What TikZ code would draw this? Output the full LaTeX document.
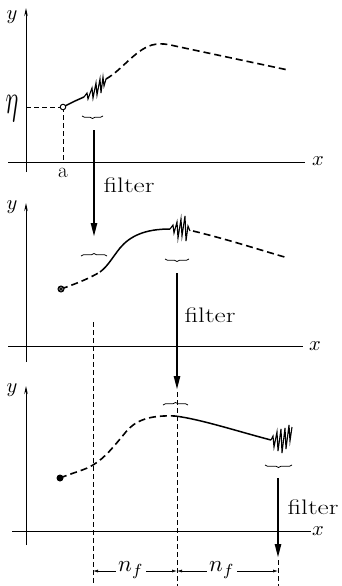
\documentclass[tikz,border=0pt]{standalone}
\usepackage{fontspec}
\usetikzlibrary{arrows.meta,decorations.pathreplacing}
\tikzset{
  axisline/.style={line width=0.9pt},
  yaxisline/.style={line width=0.9pt,-{Stealth[length=8pt,width=3.5pt]}},
  guide/.style={line width=0.5pt,dash pattern=on 5pt off 3pt},
  solidcurve/.style={line width=1.5pt,line join=round},
  dashcurve/.style={line width=1.6pt,dash pattern=on 7pt off 4pt},
  noise/.style={line width=1.1pt,line join=miter},
  filtarrow/.style={line width=2.4pt,-{Triangle[length=14pt,width=6pt]}},
  overbr/.style={line width=0.8pt,decorate,decoration={brace,amplitude=2.5pt}},
  underbr/.style={line width=0.8pt,decorate,decoration={brace,amplitude=2.5pt,mirror}},
  axlbl/.style={inner sep=0pt},
  filtlbl/.style={font=\fontsize{21}{21}\selectfont,inner sep=0pt},
  dimarrow/.style={line width=0.6pt,-{Latex[length=5pt,width=3pt]}},
}
\newcommand{\biglbl}[1]{\scalebox{2.05}{$#1$}}
\begin{document}
\begin{tikzpicture}[x=1pt,y=-1pt]
\useasboundingbox (0,0) rectangle (342,586);

% ---------------- panel 1 ----------------
\draw[axisline] (8,162) -- (305,162);
\node[axlbl] (x1) at (318,161) {\biglbl{x}};
\draw[yaxisline] (26,172) -- (26,8);
\node[axlbl] (y1) at (12,17) {\biglbl{y}};
\node[inner sep=0pt] (eta) at (12,109) {\scalebox{2.4}[4.2]{$\eta$}};
\node[axlbl,font=\fontsize{21}{21}\selectfont] (alab) at (63,173) {a};
\coordinate (s1) at (63,107);
\draw[guide] (26,107) -- (s1);
\draw[guide] (s1) -- (63,162);
\draw[solidcurve] (s1) -- (75,101) -- (84,97);
\draw[noise] (84,97) -- (87,93) -- (88,99) -- (92,88) -- (93,98) -- (96,83) -- (97,95) -- (100,79) -- (101,93) -- (103,77) -- (104,86) -- (106,79);
\draw[dashcurve] (106,79) .. controls (122,70) and (135,50) .. (152,45) .. controls (160,43) and (168,44) .. (175,46) -- (288,70);
\node[circle,draw,fill=white,line width=1pt,inner sep=0pt,minimum size=5.5pt] (c1) at (s1) {};
\draw[underbr] (82,116) -- (103,116);
\coordinate (f1top) at (94,130);
\coordinate (f1bot) at (94,237);
\draw[filtarrow] (f1top) -- (f1bot);
\node[filtlbl] (filt1) at (129,185) {\scalebox{1.3}[1]{filter}};

% ---------------- panel 2 ----------------
\draw[axisline] (8,346) -- (303,346);
\node[axlbl] (x2) at (315,346) {\biglbl{x}};
\draw[yaxisline] (26,362) -- (26,203);
\node[axlbl] (y2) at (12,207) {\biglbl{y}};
\coordinate (s2) at (61,289);
\draw[dashcurve] (s2) .. controls (78,283) and (90,278) .. (100,272);
\draw[solidcurve] (100,272) .. controls (108,266) and (112,258) .. (120,248) .. controls (130,236) and (145,229) .. (170,229);
\draw[noise] (170,229) -- (173,225) -- (174,233) -- (177,222) -- (178,238) -- (181,219) -- (182,236) -- (185,216) -- (186,241) -- (188,226) -- (190,231);
\draw[dashcurve] (193,231) .. controls (230,240) and (260,250) .. (288,258);
\node[circle,draw,fill=black!55,line width=1pt,inner sep=0pt,minimum size=6pt] (c2) at (s2) {};
\draw[line width=0.5pt] (59,287) -- (63,291) (59,291) -- (63,287);
\draw[overbr] (81,256) -- (107,256);
\draw[underbr] (165,259) -- (189,259);
\coordinate (f2top) at (177,273);
\coordinate (f2bot) at (177,390);
\draw[filtarrow] (f2top) -- (f2bot);
\node[filtlbl] (filt2) at (210,315) {\scalebox{1.3}[1]{filter}};

% ---------------- guides ----------------
\draw[guide] (93,322) -- (93,586);
\draw[guide] (177,392) -- (177,586);
\draw[guide] (278,560) -- (278,586);

% ---------------- panel 3 ----------------
\draw[axisline] (12,531) -- (311,531);
\node[axlbl] (x3) at (318,531) {\biglbl{x}};
\draw[yaxisline] (26,545) -- (26,386);
\node[axlbl] (y3) at (12,390) {\biglbl{y}};
\coordinate (s3) at (60,478);
\draw[dashcurve] (s3) .. controls (75,472) and (85,470) .. (93,465) .. controls (105,458) and (115,445) .. (125,433) .. controls (135,420) and (150,415) .. (175,416);
\draw[solidcurve] (175,416) .. controls (200,419) and (240,432) .. (271,440);
\draw[noise] (271,440) -- (273,436) -- (274,447) -- (277,432) -- (278,451) -- (281,429) -- (282,453) -- (285,428) -- (286,449) -- (289,425) -- (290,441) -- (292,427);
\node[circle,fill=black,inner sep=0pt,minimum size=7pt] (c3) at (s3) {};
\draw[overbr] (163,405) -- (188,405);
\draw[underbr] (265,465) -- (292,465);
\coordinate (f3top) at (278,478);
\coordinate (f3bot) at (278,558);
\draw[filtarrow] (f3top) -- (f3bot);
\node[filtlbl] (filt3) at (313,507) {\scalebox{1.3}[1]{filter}};

% ---------------- dimension ----------------
\node[inner sep=2pt] (n1) at (131,570) {\scalebox{2.3}{$n_f$}};
\node[inner sep=2pt] (n2) at (222,570) {\scalebox{2.3}{$n_f$}};
\coordinate (d1) at (93,571);
\coordinate (d2) at (177,571);
\coordinate (d3) at (278,571);
\draw[dimarrow] (n1.west |- d1) -- (d1);
\draw[dimarrow] (n1.east |- d1) -- (d2);
\draw[dimarrow] (n2.west |- d1) -- (d2);
\draw[dimarrow] (n2.east |- d1) -- (d3);
\end{tikzpicture}
\end{document}
